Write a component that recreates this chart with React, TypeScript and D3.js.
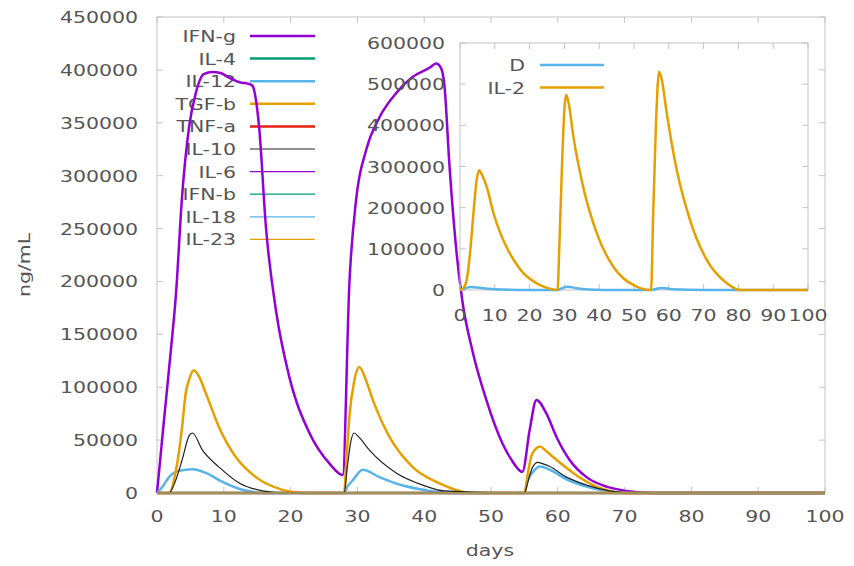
import { scaleLinear, line, curveMonotoneX } from 'd3'

const width = 854
const height = 566

// main plot frame (pixels)
const main = { left: 157, right: 825, top: 17, bottom: 493 }
// inset frame (pixels)
const inset = { left: 460, right: 808, top: 43, bottom: 290 }

const SX = 1.28
const FONT = '"DejaVu Sans", sans-serif'
const TEXT = '#555'
const BORDER = '#c4c4c4'

const xTicks = [0, 10, 20, 30, 40, 50, 60, 70, 80, 90, 100]
const yTicks = [0, 50000, 100000, 150000, 200000, 250000, 300000, 350000, 400000, 450000]
const insetYTicks = [0, 100000, 200000, 300000, 400000, 500000, 600000]

// ---- main chart series (days, ng/mL) ----
const ifngDays = [0, 1, 2, 2.85, 3.75, 4.8, 5.8, 7, 8.3, 9.5, 11, 12.5, 13.6, 14.3, 14.8, 15.3, 16.3, 17.8, 19.8, 22.8, 25.8, 27.8,
  28.8, 29.8, 31.3, 33.3, 35.8, 38.2, 40.8, 41.8, 42.5, 43, 43.8, 44.8, 45.7, 47.2, 49.3, 51.7, 53, 54.7,
  55.8, 56.8, 58.3, 59.8, 61.8, 64.3, 67.3, 70.3, 74, 100]
const ifngValues = [0, 66000, 130000, 189000, 280000, 346000, 378000, 396000, 398000, 397000, 392000, 388000, 387000, 385000, 372000, 345000, 252000, 173000, 110000, 57000, 28000, 17000,
  198000, 277000, 324000, 355000, 378000, 393000, 402000, 406000, 402000, 387000, 308000, 230000, 182000, 135000, 88000, 47000, 32000, 20000,
  60000, 88000, 75000, 53000, 31000, 15000, 6000, 2000, 0, 0]

const tgfbDays = [0, 1.8, 2.8, 3.75, 4.3, 4.8, 5.5, 6.3, 7.3, 9.3, 11.8, 14.8, 18.8, 22, 28,
  28.4, 28.8, 29.5, 30.3, 31.2, 32.3, 34.8, 38.2, 42.3, 47, 55,
  55.5, 56, 56.6, 57.3, 58.2, 59.3, 62.3, 65.8, 70, 100]
const tgfbValues = [0, 0, 20000, 62000, 94500, 107000, 116000, 110000, 94500, 62000, 34000, 15000, 3000, 0, 0,
  35000, 72000, 105000, 119000, 108000, 88000, 53000, 25000, 9000, 0, 0,
  18000, 34000, 41000, 44000, 40000, 34000, 19000, 6000, 0, 0]

const il10Days = [0, 1.8, 2.8, 3.75, 4.8, 5.3, 6.8, 9.3, 12.3, 15.8, 19, 28,
  28.5, 29, 29.5, 30.2, 31.8, 35.8, 39.8, 43, 55,
  55.5, 56.2, 57, 57.8, 58.8, 61.3, 64.3, 67.8, 71, 100]
const il10Values = [0, 0, 12000, 31000, 54000, 56700, 40500, 24500, 9500, 2000, 0, 0,
  25000, 48000, 56700, 53000, 40500, 19000, 7500, 2000, 0,
  10000, 24000, 29000, 27500, 25000, 15000, 7500, 2000, 0, 0]

const il12Days = [0, 0.8, 1.8, 3.3, 5.3, 7.3, 9.8, 12.8, 16, 28,
  28.5, 29.3, 30.8, 33.3, 35.8, 39.8, 44, 55,
  55.5, 56.3, 57.3, 58.8, 61.3, 64.3, 67.8, 71, 100]
const il12Values = [0, 5700, 15000, 21000, 22500, 19000, 10500, 3000, 0, 0,
  6000, 12000, 22000, 15000, 9000, 3000, 0, 0,
  12000, 20000, 25000, 22000, 13000, 6000, 1500, 0, 0]

const flatDays = [0, 100]
const flatValues = [0, 0]

// ---- inset series ----
const dDays = [0, 1.5, 3, 5, 8, 12, 20, 28, 29.5, 31, 33, 37, 45, 55, 56.5, 58, 61, 70, 100]
const dValues = [0, 4000, 7000, 6000, 3000, 1000, 0, 0, 5000, 8000, 5000, 1500, 0, 0, 3000, 5000, 2000, 0, 0]

const il2Days = [0, 1, 2, 3, 4, 4.8, 5.5, 6.3, 7.7, 9.6, 11.5, 13.4, 15.8, 18.2, 20.6, 23, 25.5, 28,
  28.6, 29.3, 30, 30.5, 31.2, 32.6, 35.4, 39.3, 44.1, 47, 49.9, 52, 54.9,
  55.5, 56.3, 57.2, 58, 59.4, 62.3, 66.1, 70.9, 76.6, 80.4, 100]
const il2Values = [0, 5000, 28000, 100000, 200000, 268000, 291000, 280000, 250000, 187000, 140000, 104000, 68000, 41000, 24000, 12000, 4000, 0,
  120000, 300000, 440000, 474000, 455000, 372000, 250000, 138000, 56000, 28000, 12000, 4000, 0,
  180000, 400000, 530000, 510000, 430000, 291000, 170000, 73000, 17000, 0, 0]

const mainSeries = [
  { name: 'IFN-g', days: ifngDays, values: ifngValues, color: '#9400d3', w: 2.5 },
  { name: 'IL-4', days: flatDays, values: flatValues, color: '#009e73', w: 2.5 },
  { name: 'IL-12', days: il12Days, values: il12Values, color: '#56b4e9', w: 2.5 },
  { name: 'TGF-b', days: tgfbDays, values: tgfbValues, color: '#e69f00', w: 2.5 },
  { name: 'TNF-a', days: flatDays, values: flatValues, color: '#e51e10', w: 2.5 },
  { name: 'IL-10', days: il10Days, values: il10Values, color: '#222222', w: 1.2 },
  { name: 'IL-6', days: flatDays, values: flatValues, color: '#9400d3', w: 1.2 },
  { name: 'IFN-b', days: flatDays, values: flatValues, color: '#009e73', w: 1.2 },
  { name: 'IL-18', days: flatDays, values: flatValues, color: '#56b4e9', w: 1.2 },
  { name: 'IL-23', days: flatDays, values: flatValues, color: '#e69f00', w: 1.2 },
]

const insetSeries = [
  { name: 'D', days: dDays, values: dValues, color: '#56b4e9', w: 2.5 },
  { name: 'IL-2', days: il2Days, values: il2Values, color: '#e69f00', w: 2.5 },
]

function Label({ x, y, anchor = 'middle', rotate = false, children }) {
  return (
    <text
      transform={`translate(${x},${y}) scale(${rotate ? 1 : SX},${rotate ? SX : 1})${rotate ? ' rotate(-90)' : ''}`}
      textAnchor={anchor}
      fontFamily={FONT}
      fontSize={16}
      fill={TEXT}
    >
      {children}
    </text>
  )
}

function Frame({ box, xScale, yScale, xt, yt }) {
  const tl = 6
  return (
    <g stroke={BORDER} strokeWidth={1} fill="none">
      <rect x={box.left} y={box.top} width={box.right - box.left} height={box.bottom - box.top} />
      {xt.map(t => (
        <g key={'x' + t}>
          <line x1={xScale(t)} x2={xScale(t)} y1={box.bottom} y2={box.bottom - tl} />
          <line x1={xScale(t)} x2={xScale(t)} y1={box.top} y2={box.top + tl} />
        </g>
      ))}
      {yt.map(t => (
        <g key={'y' + t}>
          <line x1={box.left} x2={box.left + tl} y1={yScale(t)} y2={yScale(t)} />
          <line x1={box.right} x2={box.right - tl} y1={yScale(t)} y2={yScale(t)} />
        </g>
      ))}
    </g>
  )
}

function App() {
  const xScale = scaleLinear().domain([0, 100]).range([main.left, main.right])
  const yScale = scaleLinear().domain([0, 450000]).range([main.bottom, main.top])
  const ixScale = scaleLinear().domain([0, 100]).range([inset.left, inset.right])
  const iyScale = scaleLinear().domain([0, 600000]).range([inset.bottom, inset.top])

  const mainLine = line<number>().x(d => xScale(d[0])).y(d => yScale(d[1])).curve(curveMonotoneX)
  const insetLine = line<number>().x(d => ixScale(d[0])).y(d => iyScale(d[1])).curve(curveMonotoneX)

  const pts = s => s.days.map((d, i) => [d, s.values[i]])

  return (
    <svg width={width} height={height} style={{ position: 'absolute', left: 0, top: 0, background: '#fff' }}>
      <rect width={width} height={height} fill="#fff" />
      <Frame box={main} xScale={xScale} yScale={yScale} xt={xTicks} yt={yTicks} />
      {xTicks.map(t => (
        <Label key={'xl' + t} x={xScale(t)} y={522}>{t}</Label>
      ))}
      {yTicks.map(t => (
        <Label key={'yl' + t} x={138} y={yScale(t) + 6} anchor="end">{t}</Label>
      ))}
      <Label x={490} y={556}>days</Label>
      <Label x={30} y={265} rotate>ng/mL</Label>

      {/* main legend */}
      {mainSeries.map((s, i) => {
        const y = 36 + i * 22.6
        return (
          <g key={'lg' + s.name}>
            <Label x={236} y={y + 6} anchor="end">{s.name}</Label>
            <line x1={250} x2={315} y1={y} y2={y} stroke={s.color} strokeWidth={s.w} />
          </g>
        )
      })}

      {mainSeries.map(s => (
        <path key={s.name} d={mainLine(pts(s))} fill="none" stroke={s.color} strokeWidth={s.w} strokeLinejoin="round" />
      ))}

      {/* inset */}
      <Frame box={inset} xScale={ixScale} yScale={iyScale} xt={xTicks} yt={insetYTicks} />
      {xTicks.map(t => (
        <Label key={'ixl' + t} x={ixScale(t)} y={321}>{t}</Label>
      ))}
      {insetYTicks.map(t => (
        <Label key={'iyl' + t} x={445} y={iyScale(t) + 6} anchor="end">{t}</Label>
      ))}
      {insetSeries.map((s, i) => {
        const y = 65 + i * 22.6
        return (
          <g key={'ilg' + s.name}>
            <Label x={525} y={y + 6} anchor="end">{s.name}</Label>
            <line x1={540} x2={604} y1={y} y2={y} stroke={s.color} strokeWidth={s.w} />
          </g>
        )
      })}
      {insetSeries.map(s => (
        <path key={'i' + s.name} d={insetLine(pts(s))} fill="none" stroke={s.color} strokeWidth={s.w} strokeLinejoin="round" />
      ))}
    </svg>
  )
}

export default App
